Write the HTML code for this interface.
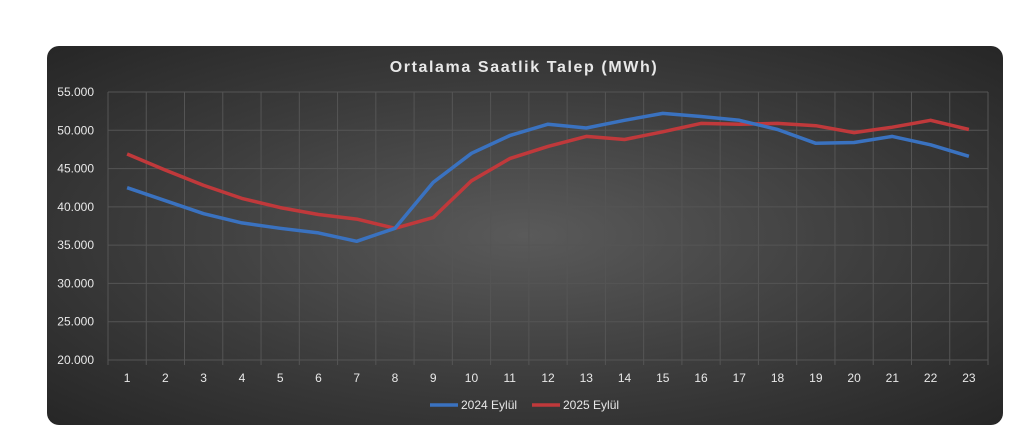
<!DOCTYPE html>
<html><head><meta charset="utf-8"><style>
html,body{margin:0;padding:0;background:#fff;width:1024px;height:444px;overflow:hidden}
#c{position:absolute;left:47px;top:46px;width:956px;height:379px;border-radius:12px;
background:radial-gradient(ellipse at 50% 50%,#5a5a5a 0%,#3c3c3c 55%,#262626 100%);}
svg{position:absolute;left:0;top:0}
text{font-family:"Liberation Sans",sans-serif;fill:#e8e8e8}
</style></head><body>
<div id="c"></div>
<svg id="s" width="1024" height="444"></svg>
<script>
const B=[42.5,40.8,39.1,37.9,37.2,36.6,35.5,37.2,43.2,47.0,49.3,50.8,50.3,51.3,52.2,51.8,51.3,50.1,48.3,48.4,49.2,48.1,46.6];
const R=[46.9,44.8,42.8,41.1,39.9,39.0,38.4,37.2,38.6,43.4,46.3,47.9,49.2,48.8,49.8,50.9,50.8,50.9,50.6,49.7,50.4,51.3,50.1];
const L=108,Rr=988,T=92,Bt=360,w=(Rr-L)/23;
const y=v=>Bt-(v-20)/35*(Bt-T), x=i=>L+w*(i+0.5);
let h='<text x="524" y="72" text-anchor="middle" font-size="16" font-weight="bold" style="letter-spacing:1.6px">Ortalama Saatlik Talep (MWh)</text>';
for(let k=0;k<=7;k++){const v=20+k*5,yy=y(v);
h+=`<line x1="${L}" x2="${Rr}" y1="${yy}" y2="${yy}" stroke="#555" stroke-width="1"/>`;
h+=`<text x="94" y="${yy+4}" text-anchor="end" font-size="12">${v}.000</text>`;}
for(let i=0;i<=23;i++){const xx=L+w*i;h+=`<line x1="${xx}" x2="${xx}" y1="${T}" y2="${Bt+5}" stroke="#555" stroke-width="1"/>`;}
for(let i=0;i<23;i++)h+=`<text x="${x(i)}" y="382" text-anchor="middle" font-size="12">${i+1}</text>`;
const p=a=>a.map((v,i)=>(i?'L':'M')+x(i).toFixed(1)+' '+y(v).toFixed(1)).join(' ');
h+=`<path d="${p(R)}" fill="none" stroke="#c0393b" stroke-width="3.5" stroke-linejoin="round"/>`;
h+=`<path d="${p(B)}" fill="none" stroke="#3a72c0" stroke-width="3.5" stroke-linejoin="round"/>`;
h+='<line x1="430" x2="458" y1="405" y2="405" stroke="#3a72c0" stroke-width="3.5"/><text x="461" y="409" font-size="12">2024 Eylül</text>';
h+='<line x1="532" x2="560" y1="405" y2="405" stroke="#c0393b" stroke-width="3.5"/><text x="563" y="409" font-size="12">2025 Eylül</text>';
document.getElementById('s').innerHTML=h;
</script>
</body></html>
